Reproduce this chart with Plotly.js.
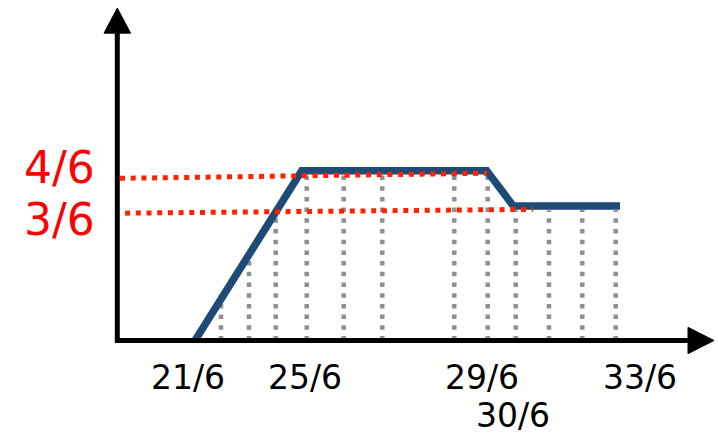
<!DOCTYPE html>
<html>
<head>
<meta charset="utf-8">
<script src="https://cdn.plot.ly/plotly-3.0.1.min.js"></script>
<style>html,body{margin:0;padding:0;background:#fff;}#chart{width:718px;height:435px;}</style>
</head>
<body>
<div id="chart"></div>
<script>
// Schematic curve (x in time units, y in sixths)
const curveX = [7.77, 18.44, 36.94, 39.6, 50.27];
const curveY = [0, 4.0, 4.0, 3.17, 3.17];

// Gray dotted verticals
const gridX   = [10.37, 13.17, 15.84, 18.94, 22.64, 26.5, 33.7, 37.04, 39.84, 43.17, 46.5, 49.84];
const gridTop = [0.91, 1.9, 2.96, 4.0, 3.95, 3.95, 3.95, 3.9, 3.07, 3.07, 3.08, 3.07];

// Red dotted reference levels
const refTopX = [0.27, 36.97];
const refTopY = [3.82, 3.94];
const refLowX = [0.78, 41.57];
const refLowY = [3.0, 3.09];

// Labels
const xLabels = ["21/6", "25/6", "29/6", "33/6", "30/6"];
const xLabelPos = [7.07, 18.77, 36.44, 52.22, 39.6];
const xLabelRow = [0, 0, 0, 0, 1];
const yLabels = ["4/6", "3/6"];
const yLabelPos = [4.08, 2.86];

// Build gray segments
const gx = [], gy = [];
gridX.forEach((x, i) => { gx.push(x, x, null); gy.push(0, gridTop[i], null); });

const traces = [
  {x: gx, y: gy, mode: 'lines', line: {color: '#8f8f8f', width: 4.5, dash: '4.5px,6.2px'}, hoverinfo: 'skip'},
  {x: curveX, y: curveY, mode: 'lines', line: {color: '#1e4a76', width: 7.5}, hoverinfo: 'skip'},
  {x: refTopX, y: refTopY, mode: 'lines', line: {color: '#ff2200', width: 5, dash: '5px,5.7px'}, hoverinfo: 'skip'},
  {x: refLowX, y: refLowY, mode: 'lines', line: {color: '#ff2200', width: 5, dash: '5px,5.7px'}, hoverinfo: 'skip'}
];

// Axis geometry
const xAxisStart = -0.23, xAxisBase = 57.07, xAxisTip = 59.67, xHead = 0.31;
const yAxisStart = -0.06, yAxisBase = 7.24, yAxisTip = 7.83, yHead = 1.33;

const shapes = [
  {type: 'line', xref: 'x', yref: 'y', x0: xAxisStart, x1: xAxisBase, y0: 0, y1: 0, line: {color: '#000', width: 5}, layer: 'above'},
  {type: 'line', xref: 'x', yref: 'y', x0: 0, x1: 0, y0: yAxisStart, y1: yAxisBase, line: {color: '#000', width: 5}, layer: 'above'},
  {type: 'path', xref: 'x', yref: 'y', layer: 'above',
   path: `M${xAxisBase},${-xHead} L${xAxisTip},0 L${xAxisBase},${xHead} Z`,
   fillcolor: '#000', line: {color: '#000', width: 1}},
  {type: 'path', xref: 'x', yref: 'y', layer: 'above',
   path: `M${-yHead},${yAxisBase} L0,${yAxisTip} L${yHead},${yAxisBase} Z`,
   fillcolor: '#000', line: {color: '#000', width: 1}}
];

const rowY = [-0.88, -1.77];
const annotations = [];
xLabels.forEach((t, i) => annotations.push({
  x: xLabelPos[i], y: rowY[xLabelRow[i]], xref: 'x', yref: 'y', text: t, showarrow: false,
  xanchor: 'center', yanchor: 'middle', font: {family: 'DejaVu Sans', size: 33, color: '#000'}
}));
yLabels.forEach((t, i) => annotations.push({
  x: -2.03, y: yLabelPos[i], xref: 'x', yref: 'y', text: t, showarrow: false,
  xanchor: 'right', yanchor: 'middle', font: {family: 'DejaVu Sans', size: 44, color: '#ff0000'}
}));

const layout = {
  width: 718, height: 435,
  margin: {l: 0, r: 0, t: 0, b: 0},
  paper_bgcolor: '#fff', plot_bgcolor: '#fff',
  showlegend: false,
  xaxis: {range: [-11.73, 60.07], showgrid: false, zeroline: false, showticklabels: false, showline: false, ticks: ''},
  yaxis: {range: [-2.226, 8.021], showgrid: false, zeroline: false, showticklabels: false, showline: false, ticks: ''},
  shapes: shapes,
  annotations: annotations
};

Plotly.newPlot('chart', traces, layout, {staticPlot: true, displayModeBar: false});
</script>
</body>
</html>
